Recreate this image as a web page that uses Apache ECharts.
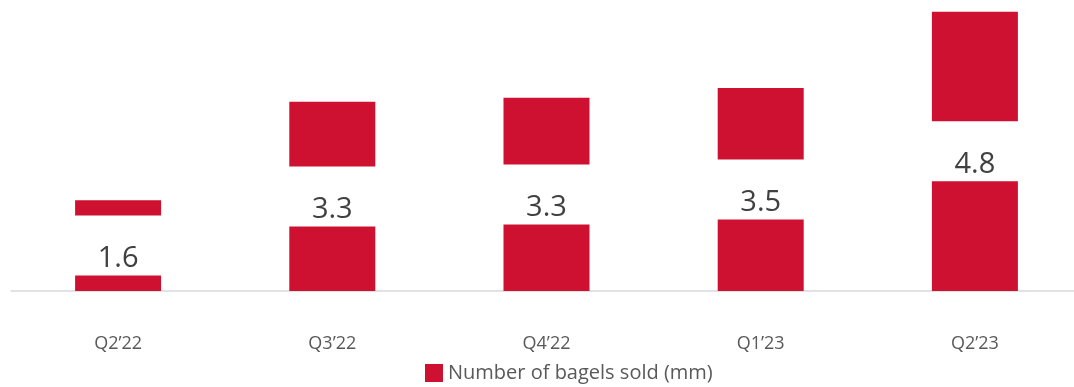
<!DOCTYPE html>
<html>
<head>
<meta charset="utf-8">
<script src="https://cdn.jsdelivr.net/npm/echarts@6/dist/echarts.min.js"></script>
<style>
  html, body { margin: 0; padding: 0; background: #fff; }
  #chart { width: 1074px; height: 387px; }
</style>
</head>
<body>
<div id="chart"></div>
<script>
// 季度
const quarters = ['Q2’22', 'Q3’22', 'Q4’22', 'Q1’23', 'Q2’23']
// 贝果销量 (mm)
const bagels = [1.56, 3.25, 3.32, 3.49, 4.8]
const seriesName = 'Number of bagels sold (mm)'

const chart = echarts.init(document.getElementById('chart'))
const option = {
  animation: false,
  textStyle: { fontFamily: 'Open Sans' },
  grid: {
    left: 11,
    top: 0,
    width: 1071,
    bottom: 96,
    containLabel: false,
    outerBoundsMode: 'none',
  },
  legend: {
    left: 420,
    top: 358,
    itemWidth: 18,
    itemHeight: 18,
    itemGap: 10,
    icon: 'rect',
    textStyle: { color: '#595959', fontSize: 20, fontFamily: 'Open Sans' },
    data: [seriesName],
  },
  xAxis: {
    type: 'category',
    data: quarters,
    axisLine: { lineStyle: { color: '#D9D9D9', width: 1.5 } },
    axisTick: { show: false },
    axisLabel: { color: '#595959', fontSize: 18, margin: 44 },
  },
  yAxis: {
    type: 'value',
    min: 0,
    max: 5,
    show: false,
    splitLine: { show: false },
  },
  series: [
    {
      name: seriesName,
      type: 'bar',
      barWidth: 86,
      data: bagels,
      itemStyle: { color: '#CE1130' },
      label: {
        show: true,
        position: 'inside',
        // 白底标签，把柱子切成两段，数字偏下
        formatter: (p) => '{s| }\n{v|' + p.value.toFixed(1) + '}',
        width: 96,
        align: 'center',
        backgroundColor: '#fff',
        padding: 0,
        rich: {
          s: { height: 26, lineHeight: 26, fontSize: 10 },
          v: {
            color: '#404040',
            fontSize: 29,
            lineHeight: 34,
            height: 34,
            fontFamily: 'Open Sans',
          },
        },
      },
    },
  ],
}
chart.setOption(option)
</script>
</body>
</html>
